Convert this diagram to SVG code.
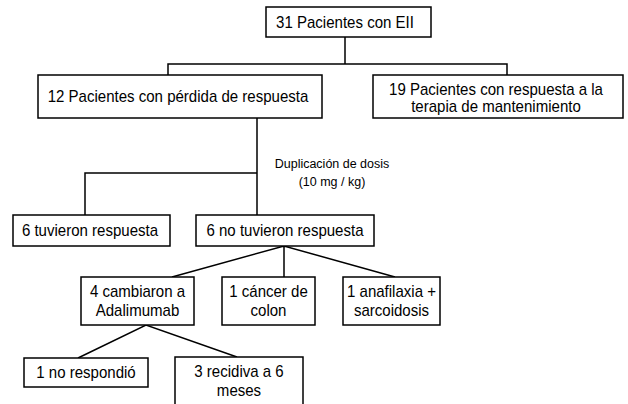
<svg xmlns="http://www.w3.org/2000/svg" width="628" height="404" viewBox="0 0 628 404">
<style>
.box{fill:#fff;stroke:#000;stroke-width:1.5}
.t,.s{font-family:"Liberation Sans",Arial,sans-serif;fill:#000;text-anchor:middle;transform-box:fill-box;transform-origin:center;transform:scaleX(0.94)}
.t{font-size:16px}
.s{font-size:13.3px}
.c{fill:none;stroke:#000;stroke-width:1.5}
</style>
<rect width="628" height="404" fill="#fff"/>
<g id="connectors">
<path class="c" d="M345,37V64M168,75V64H507V75"/>
<path class="c" d="M257,118V215M85,215V173H257"/>
<path class="c" d="M172,277L284,246L395,277M284,246V277"/>
<path class="c" d="M78,358L146,325L237,357"/>
</g>
<g id="n1"><rect class="box" x="266" y="7" width="165" height="30"/><text class="t" x="345" y="28">31 Pacientes con EII</text></g>
<g id="n2"><rect class="box" x="38" y="75" width="284" height="43"/><text class="t" x="178" y="102">12 Pacientes con pérdida de respuesta</text></g>
<g id="n3"><rect class="box" x="373" y="75" width="250" height="43"/><text class="t" x="496" y="95">19 Pacientes con respuesta a la</text><text class="t" x="496" y="112">terapia de mantenimiento</text></g>
<g id="lbl"><text class="s" x="332" y="168">Duplicación de dosis</text><text class="s" x="332" y="186">(10 mg / kg)</text></g>
<g id="n4"><rect class="box" x="13" y="215" width="157" height="31"/><text class="t" x="90" y="236">6 tuvieron respuesta</text></g>
<g id="n5"><rect class="box" x="196" y="215" width="178" height="31"/><text class="t" x="285" y="236">6 no tuvieron respuesta</text></g>
<g id="n6"><rect class="box" x="81" y="277" width="113" height="48"/><text class="t" x="137.5" y="297">4 cambiaron a</text><text class="t" x="137.5" y="316">Adalimumab</text></g>
<g id="n7"><rect class="box" x="222" y="277" width="93" height="48"/><text class="t" x="268.5" y="297">1 cáncer de</text><text class="t" x="268.5" y="316">colon</text></g>
<g id="n8"><rect class="box" x="343" y="277" width="97" height="48"/><text class="t" x="391.5" y="297">1 anafilaxia +</text><text class="t" x="391.5" y="316">sarcoidosis</text></g>
<g id="n9"><rect class="box" x="24" y="358" width="124" height="29"/><text class="t" x="86" y="378">1 no respondió</text></g>
<g id="n10"><rect class="box" x="175" y="357" width="128" height="52"/><text class="t" x="239" y="377">3 recidiva a 6</text><text class="t" x="239" y="396">meses</text></g>
</svg>
